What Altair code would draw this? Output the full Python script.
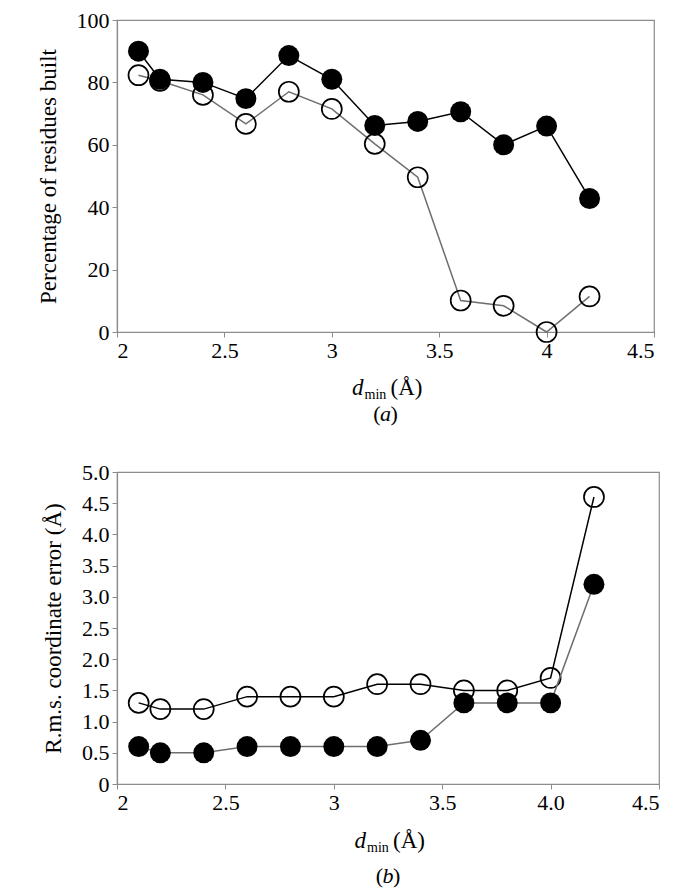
import altair as alt
import pandas as pd

# d_min values (Å)
res = [2.1, 2.2, 2.4, 2.6, 2.8, 3.0, 3.2, 3.4, 3.6, 3.8, 4.0, 4.2]

# Panel (a): percentage of residues built
pct_filled = [90, 81, 80, 74.8, 88.6, 81, 66.2, 67.5, 70.6, 60, 66, 42.8]
pct_open = [82.3, 80.5, 76, 66.7, 77, 71.5, 60.3, 49.6, 10.1, 8.4, 0, 11.4]

# Panel (b): r.m.s. coordinate error (Å)
rms_open = [1.3, 1.2, 1.2, 1.4, 1.4, 1.4, 1.6, 1.6, 1.5, 1.5, 1.7, 4.6]
rms_filled = [0.6, 0.5, 0.5, 0.6, 0.6, 0.6, 0.6, 0.7, 1.3, 1.3, 1.3, 3.2]

x_ticks = [2, 2.5, 3, 3.5, 4, 4.5]
y_ticks_a = [0, 20, 40, 60, 80, 100]
y_ticks_b = [0, 0.5, 1.0, 1.5, 2.0, 2.5, 3.0, 3.5, 4.0, 4.5, 5.0]

FONT = "Liberation Serif"
GRAY_LINE = "#6e6e6e"
FRAME = "#8c8c8c"


def text_layer(txt, x, y, size=20, style="normal", align="center"):
    return alt.Chart(pd.DataFrame({"k": [0]})).mark_text(
        text=txt, font=FONT, fontSize=size, fontStyle=style, align=align,
        baseline="middle", color="black"
    ).encode(x=alt.value(x), y=alt.value(y))


def axis(values, labelexpr, title=None):
    kw = dict(values=values, labelExpr=labelexpr, labelFont=FONT, labelFontSize=22,
              labelColor="black", labelPadding=3, domainColor=FRAME, domainWidth=1.2,
              tickColor=FRAME, tickSize=5, tickWidth=1, grid=False)
    if title is None:
        kw["title"] = None
    else:
        kw.update(title=title, titleFont=FONT, titleFontSize=23, titleFontWeight="normal",
                  titleColor="black", titlePadding=16)
    return alt.Axis(**kw)


def panel(open_vals, filled_vals, open_color, filled_color, ydomain, yticks,
          ytitle, ylabelexpr, xlabelexpr, W, H, caption, dmin_dy, cap_dy):
    df = pd.DataFrame({
        "d": res + res,
        "v": open_vals + filled_vals,
        "s": ["open"] * len(res) + ["filled"] * len(res),
    })
    x = alt.X("d:Q", scale=alt.Scale(domain=[2, 4.5], nice=False, zero=False),
              axis=axis(x_ticks, xlabelexpr))
    y = alt.Y("v:Q", scale=alt.Scale(domain=ydomain, nice=False),
              axis=axis(yticks, ylabelexpr, ytitle))
    base = alt.Chart(df)
    op = base.transform_filter("datum.s == 'open'")
    fi = base.transform_filter("datum.s == 'filled'")
    open_line = op.mark_line(color=open_color, strokeWidth=1.5).encode(x=x, y=y)
    open_pts = op.mark_point(shape="circle", size=400, filled=False,
                             stroke="black", strokeWidth=1.7, opacity=1).encode(x=x, y=y)
    filled_line = fi.mark_line(color=filled_color, strokeWidth=1.5).encode(x=x, y=y)
    filled_pts = fi.mark_point(shape="circle", size=440, filled=True,
                               color="black", opacity=1).encode(x=x, y=y)
    c = W / 2
    yd = H + dmin_dy
    layers = [
        open_line, open_pts, filled_line, filled_pts,
        text_layer("d", c - 22, yd, 23, "italic", "right"),
        text_layer("min", c - 21, yd + 7, 14, "normal", "left"),
        text_layer("(Å)", c + 5, yd, 23, "normal", "left"),
        text_layer("(", c - 5, H + cap_dy, 22, "normal", "right"),
        text_layer(caption, c, H + cap_dy, 22, "italic", "center"),
        text_layer(")", c + 5, H + cap_dy, 22, "normal", "left"),
    ]
    return alt.layer(*layers).properties(width=W, height=H)


top = panel(pct_open, pct_filled, GRAY_LINE, "black", [0, 100], y_ticks_a,
            "Percentage of residues built", "format(datum.value, 'd')",
            "datum.value == 4 ? '4' : format(datum.value, '')",
            537, 312, "a", 56, 82)
bottom = panel(rms_open, rms_filled, "black", GRAY_LINE, [0, 5], y_ticks_b,
               "R.m.s. coordinate error (Å)",
               "datum.value == 0 ? '0' : format(datum.value, '.1f')",
               "datum.value == 4 ? '4.0' : format(datum.value, '')",
               542, 312, "b", 57, 92)

chart = alt.vconcat(top, bottom, spacing=34).properties(
    padding={"left": 28, "top": 0, "right": 5, "bottom": 2}
).configure(
    font=FONT
).configure_view(
    stroke=FRAME, strokeWidth=1.2
)

chart.save("out.html", embed_options={"renderer": "svg", "actions": False})
